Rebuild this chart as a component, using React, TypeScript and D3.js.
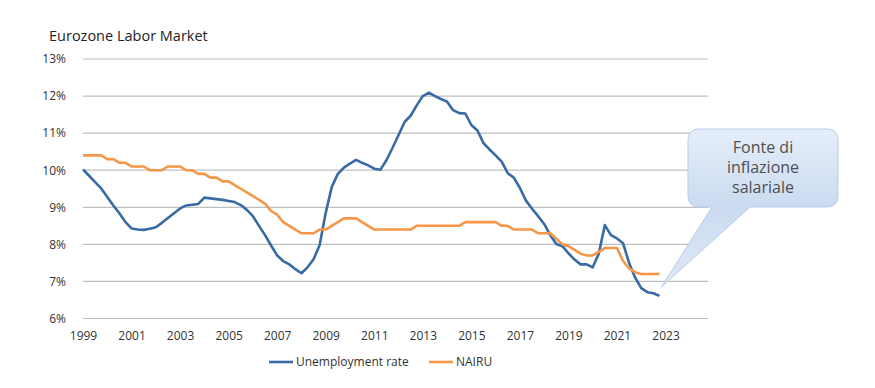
import React, { useEffect, useRef } from 'react';
import * as d3 from 'd3';

// quarterly observations, 1999Q1 .. 2022Q4
const startYear = 1999;
const unemployment = [
    10.02, 9.85, 9.68, 9.51,
    9.28, 9.05, 8.84, 8.60,
    8.43, 8.40, 8.39, 8.42,
    8.46, 8.58, 8.71, 8.84,
    8.97, 9.05, 9.07, 9.09,
    9.26, 9.24, 9.22, 9.20,
    9.17, 9.14, 9.06, 8.93,
    8.76, 8.50, 8.25, 7.97,
    7.70, 7.55, 7.46, 7.33,
    7.22, 7.38, 7.60, 7.98,
    8.85, 9.55, 9.90, 10.07,
    10.18, 10.28, 10.20, 10.13,
    10.04, 10.01, 10.27, 10.60,
    10.95, 11.30, 11.47, 11.75,
    12.00, 12.09, 12.00, 11.92,
    11.85, 11.62, 11.54, 11.53,
    11.22, 11.07, 10.73, 10.56,
    10.40, 10.23, 9.92, 9.80,
    9.52, 9.18, 8.96, 8.76,
    8.55, 8.25, 8.01, 7.95,
    7.76, 7.59, 7.46, 7.46,
    7.38, 7.75, 8.52, 8.25,
    8.16, 8.03, 7.50, 7.10,
    6.82, 6.71, 6.68, 6.61,
];
const nairu = [
    10.4, 10.4, 10.4, 10.4,
    10.3, 10.3, 10.2, 10.2,
    10.1, 10.1, 10.1, 10.0,
    10.0, 10.0, 10.1, 10.1,
    10.1, 10.0, 10.0, 9.9,
    9.9, 9.8, 9.8, 9.7,
    9.7, 9.6, 9.5, 9.4,
    9.3, 9.2, 9.1, 8.9,
    8.8, 8.6, 8.5, 8.4,
    8.3, 8.3, 8.3, 8.4,
    8.4, 8.5, 8.6, 8.7,
    8.7, 8.7, 8.6, 8.5,
    8.4, 8.4, 8.4, 8.4,
    8.4, 8.4, 8.4, 8.5,
    8.5, 8.5, 8.5, 8.5,
    8.5, 8.5, 8.5, 8.6,
    8.6, 8.6, 8.6, 8.6,
    8.6, 8.5, 8.5, 8.4,
    8.4, 8.4, 8.4, 8.3,
    8.3, 8.3, 8.15, 8.0,
    7.95, 7.85, 7.75, 7.7,
    7.7, 7.8, 7.9, 7.9,
    7.9, 7.55, 7.35, 7.25,
    7.2, 7.2, 7.2, 7.2,
];
const yearTicks = [1999, 2001, 2003, 2005, 2007, 2009, 2011, 2013, 2015, 2017, 2019, 2021, 2023];
const pctTicks = [6, 7, 8, 9, 10, 11, 12, 13];
const seriesNames = ['Unemployment rate', 'NAIRU'];
const calloutLines = ['Fonte di', 'inflazione', 'salariale'];

const W = 875;
const H = 388;
const FONT = '"Open Sans", sans-serif';
const BLUE = '#386aa6';
const ORANGE = '#f79646';

const App: React.FC = () => {
    const svgRef = useRef<SVGSVGElement>(null);

    useEffect(() => {
        if (!svgRef.current) return;
        const svg = d3.select(svgRef.current);
        svg.selectAll('*').remove();

        const x = d3.scaleLinear().domain([1999, 2024.75]).range([83, 708]);
        const y = d3.scaleLinear().domain([6, 13]).range([318.5, 59]);

        svg.append('text')
            .attr('x', 49)
            .attr('y', 41)
            .style('font-family', FONT)
            .style('font-size', '14.5px')
            .style('fill', '#222')
            .text('Eurozone Labor Market');

        // gridlines
        svg.append('g')
            .selectAll('line')
            .data(pctTicks)
            .enter()
            .append('line')
            .attr('x1', x.range()[0])
            .attr('x2', x.range()[1])
            .attr('y1', d => y(d))
            .attr('y2', d => y(d))
            .attr('stroke', '#bfbfbf')
            .attr('stroke-width', 1.2);

        const yAxis = svg.append('g')
            .attr('transform', `translate(${x.range()[0] - 14},0)`)
            .call(d3.axisLeft(y).tickValues(pctTicks).tickSize(0).tickFormat(d => `${d}%`));
        yAxis.select('.domain').remove();
        yAxis.selectAll('text')
            .style('font-family', FONT)
            .style('font-size', '12px')
            .style('fill', '#333');

        const xAxis = svg.append('g')
            .attr('transform', `translate(0,${y(6) + 10})`)
            .call(d3.axisBottom(x).tickValues(yearTicks).tickSize(0).tickFormat(d3.format('d')));
        xAxis.select('.domain').remove();
        xAxis.selectAll('text')
            .style('font-family', FONT)
            .style('font-size', '12px')
            .style('fill', '#333');

        const line = d3.line<number>()
            .x((_, i) => x(startYear + i / 4))
            .y(d => y(d));

        svg.append('path')
            .datum(unemployment)
            .attr('d', line)
            .attr('fill', 'none')
            .attr('stroke', BLUE)
            .attr('stroke-width', 2.6)
            .attr('stroke-linejoin', 'round');

        svg.append('path')
            .datum(nairu)
            .attr('d', line)
            .attr('fill', 'none')
            .attr('stroke', ORANGE)
            .attr('stroke-width', 2.6)
            .attr('stroke-linejoin', 'round');

        // legend
        const legend = svg.append('g').attr('transform', 'translate(269,362)');
        const offsets = [0, 160];
        seriesNames.forEach((name, i) => {
            const g = legend.append('g').attr('transform', `translate(${offsets[i]},0)`);
            g.append('line')
                .attr('x1', 0).attr('x2', 24)
                .attr('stroke', i === 0 ? BLUE : ORANGE)
                .attr('stroke-width', 2.6);
            g.append('text')
                .attr('x', 27)
                .attr('dy', '0.35em')
                .style('font-family', FONT)
                .style('font-size', '12px')
                .style('fill', '#333')
                .text(name);
        });

        // callout bubble
        const bx0 = 688, bx1 = 838, by0 = 129, by1 = 207, r = 10;
        const tip: [number, number] = [x(2022.75) + 2, y(6.85)];

        const defs = svg.append('defs');
        const grad = defs.append('linearGradient')
            .attr('id', 'bubble')
            .attr('gradientUnits', 'userSpaceOnUse')
            .attr('x1', 0).attr('y1', by0).attr('x2', 0).attr('y2', tip[1]);
        grad.append('stop').attr('offset', '0%').attr('stop-color', '#e6eef9');
        grad.append('stop').attr('offset', '49%').attr('stop-color', '#cadbf0');
        grad.append('stop').attr('offset', '100%').attr('stop-color', '#dfe9f6');

        const p = d3.path();
        p.moveTo(bx0 + r, by0);
        p.lineTo(bx1 - r, by0);
        p.arcTo(bx1, by0, bx1, by0 + r, r);
        p.lineTo(bx1, by1 - r);
        p.arcTo(bx1, by1, bx1 - r, by1, r);
        p.lineTo(750, by1);
        p.lineTo(tip[0], tip[1]);
        p.lineTo(712, by1);
        p.lineTo(bx0 + r, by1);
        p.arcTo(bx0, by1, bx0, by1 - r, r);
        p.lineTo(bx0, by0 + r);
        p.arcTo(bx0, by0, bx0 + r, by0, r);
        p.closePath();

        svg.append('path')
            .attr('d', p.toString())
            .attr('fill', 'url(#bubble)')
            .attr('stroke', '#b7cde8')
            .attr('stroke-width', 1);

        svg.append('g')
            .selectAll('text')
            .data(calloutLines)
            .enter()
            .append('text')
            .attr('x', 763)
            .attr('y', (_, i) => 147 + i * 20)
            .attr('dy', '0.35em')
            .attr('text-anchor', 'middle')
            .style('font-family', FONT)
            .style('font-size', '16px')
            .style('fill', '#505050')
            .text(d => d);
    }, []);

    return (
        <svg
            ref={svgRef}
            width={W}
            height={H}
            style={{ position: 'absolute', left: 0, top: 0, background: '#fff' }}
        ></svg>
    );
};

export default App;
